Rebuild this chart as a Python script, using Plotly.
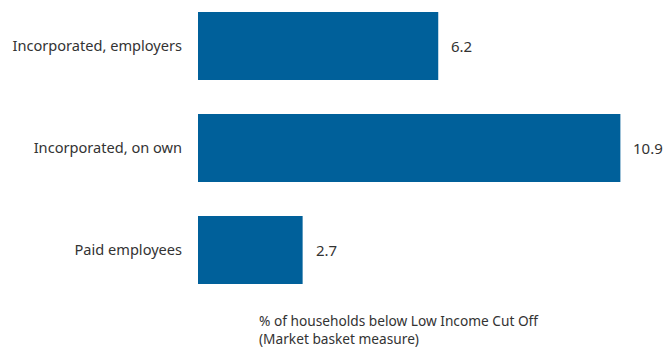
import plotly.graph_objects as go

# Share of households below the low income cut-off, by employment type
categories = ["Paid employees", "Incorporated, on own", "Incorporated, employers"]
values = [2.7, 10.9, 6.2]
value_labels = ["2.7", "10.9", "6.2"]

axis_title = "% of households below Low Income Cut Off<br>(Market basket measure)"

bar_color = "#00609A"
text_color = "#333333"
font_family = "Noto Sans, Open Sans, sans-serif"

fig = go.Figure(
    go.Bar(
        x=values,
        y=categories,
        orientation="h",
        marker=dict(color=bar_color, line=dict(width=0)),
        width=0.667,
        hoverinfo="skip",
    )
)

# Value labels just right of each bar end
for cat, val, lab in zip(categories, values, value_labels):
    fig.add_annotation(
        x=val, y=cat, text=lab, showarrow=False,
        xanchor="left", yanchor="middle", xshift=11,
        font=dict(size=15, color=text_color, family=font_family),
    )

# Axis caption below the plot
plot_w = 666 - 198 - 3
plot_h = 347 - 0 - 51
fig.add_annotation(
    x=(257 - 198) / plot_w, y=(347 - 51 - 329) / plot_h,
    xref="paper", yref="paper", text=axis_title,
    showarrow=False, xanchor="left", yanchor="middle", align="left",
    font=dict(size=13.7, color=text_color, family=font_family),
)

fig.update_layout(
    width=666,
    height=347,
    margin=dict(l=198, r=3, t=0, b=51),
    plot_bgcolor="white",
    paper_bgcolor="white",
    showlegend=False,
    font=dict(family=font_family, color=text_color, size=14),
    xaxis=dict(
        range=[0, 12], visible=False, showgrid=False, zeroline=False,
    ),
    yaxis=dict(
        type="category",
        categoryorder="array",
        categoryarray=categories,
        range=[-0.451, 2.451],
        showgrid=False, zeroline=False, showline=False,
        ticks="outside", ticklen=12, tickcolor="rgba(0,0,0,0)",
        tickfont=dict(size=14.6, color=text_color, family=font_family),
    ),
)

fig.write_html("out.html")
